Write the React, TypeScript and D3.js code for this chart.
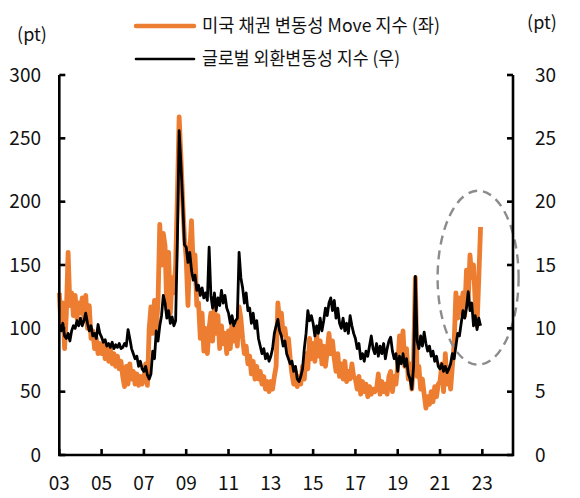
import * as d3 from "d3";

// monthly readings, Jan 2003 .. Dec 2022
const startYear = 2003;

// 미국 채권 변동성 Move 지수 (left axis)
const moveIndex = [
  128, 100, 120, 84, 112, 160, 118, 128, 110, 126, 108, 120, // 2003
  112, 124, 108, 126, 100, 118, 92, 98, 84, 92, 80, 88, // 2004
  80, 88, 76, 86, 74, 84, 72, 80, 70, 78, 68, 74, // 2005
  62, 54, 70, 56, 72, 60, 66, 56, 64, 55, 62, 56, // 2006
  60, 72, 55, 100, 117, 96, 122, 100, 120, 182, 150, 175, // 2007
  165, 115, 160, 112, 140, 128, 150, 205, 267, 235, 200, 172, // 2008
  155, 118, 160, 185, 148, 158, 118, 120, 92, 112, 82, 100, // 2009
  80, 100, 112, 90, 118, 96, 110, 84, 102, 88, 96, 80, // 2010
  98, 84, 105, 90, 100, 86, 117, 108, 92, 80, 86, 72, // 2011
  78, 64, 74, 60, 70, 60, 66, 56, 62, 52, 58, 50, // 2012
  58, 52, 62, 70, 120, 105, 112, 95, 100, 88, 92, 76, // 2013
  64, 56, 66, 54, 62, 56, 70, 60, 80, 68, 92, 76, // 2014
  88, 74, 96, 78, 90, 72, 86, 70, 82, 96, 80, 90, // 2015
  76, 66, 80, 62, 72, 60, 74, 58, 66, 60, 72, 62, // 2016
  60, 52, 62, 48, 58, 50, 56, 46, 54, 48, 52, 50, // 2017
  52, 64, 48, 58, 50, 56, 48, 62, 66, 50, 62, 56, // 2018
  70, 94, 82, 98, 70, 84, 60, 72, 52, 75, 140, 62, // 2019
  70, 52, 60, 48, 37, 46, 40, 50, 42, 54, 46, 56, // 2020
  58, 72, 50, 80, 56, 66, 52, 70, 88, 128, 108, 124, // 2021
  112, 128, 110, 146, 122, 158, 140, 150, 120, 102, 140, 180, // 2022
];

// 글로벌 외환변동성 지수 (right axis)
const fxVol = [
  10.3, 9.8, 10.4, 9.4, 9.2, 9.6, 9.0, 9.8, 10.2, 10.0, 10.6, 10.2, // 2003
  10.8, 10.2, 10.6, 11.2, 10.4, 9.8, 10.2, 9.4, 9.6, 9.2, 10.3, 9.6, // 2004
  9.3, 8.9, 9.1, 8.6, 8.8, 8.5, 8.9, 8.4, 8.7, 8.5, 8.8, 8.4, // 2005
  8.5, 8.8, 8.6, 9.9, 9.2, 8.4, 8.0, 7.6, 7.8, 7.0, 7.4, 6.8, // 2006
  6.6, 7.0, 6.3, 6.0, 6.4, 8.2, 7.6, 9.8, 9.0, 10.2, 11.0, 12.6, // 2007
  12.0, 10.8, 11.4, 10.4, 10.9, 10.2, 10.6, 17.0, 25.6, 23.0, 20.0, 16.6, // 2008
  16.4, 15.2, 16.0, 14.6, 13.8, 14.2, 13.0, 13.4, 12.6, 13.2, 12.4, 12.8, // 2009
  12.2, 16.4, 12.6, 11.6, 12.8, 11.4, 12.4, 11.8, 13.0, 12.0, 12.6, 11.6, // 2010
  11.2, 10.4, 11.0, 10.2, 10.6, 10.8, 16.0, 14.0, 13.2, 12.0, 12.8, 11.4, // 2011
  11.6, 10.4, 11.2, 10.0, 10.6, 9.2, 8.6, 8.0, 8.4, 7.6, 8.0, 7.4, // 2012
  7.8, 8.4, 9.6, 10.2, 10.7, 9.8, 9.4, 8.6, 9.0, 8.0, 7.6, 7.2, // 2013
  7.4, 6.6, 7.0, 6.0, 5.8, 6.2, 6.8, 8.4, 9.6, 11.4, 10.6, 11.0, // 2014
  10.4, 9.4, 10.2, 9.6, 10.8, 9.8, 10.6, 11.6, 11.0, 12.0, 12.4, 11.4, // 2015
  12.2, 10.8, 11.6, 10.4, 10.0, 10.8, 9.8, 10.4, 9.6, 11.0, 10.2, 9.6, // 2016
  9.2, 8.4, 8.8, 7.6, 8.0, 7.4, 8.2, 7.8, 8.6, 9.4, 8.4, 8.0, // 2017
  8.8, 7.8, 8.6, 8.0, 8.8, 7.6, 8.4, 9.0, 9.3, 8.2, 7.6, 8.0, // 2018
  6.6, 7.8, 7.2, 8.0, 7.0, 7.6, 6.4, 6.0, 5.2, 7.0, 14.1, 9.0, // 2019
  8.4, 9.4, 8.6, 9.7, 8.8, 8.2, 8.6, 7.8, 8.2, 7.4, 7.8, 7.0, // 2020
  6.8, 7.2, 6.6, 7.0, 6.5, 6.8, 7.2, 8.0, 7.6, 8.6, 9.6, 9.4, // 2021
  10.4, 11.4, 10.8, 11.6, 12.9, 11.4, 12.0, 10.2, 11.0, 9.9, 10.8, 10.2, // 2022
];

const leftTicks = [0, 50, 100, 150, 200, 250, 300];
const rightTicks = [0, 5, 10, 15, 20, 25, 30];
const xTicks = [2003, 2005, 2007, 2009, 2011, 2013, 2015, 2017, 2019, 2021, 2023];

const legendItems = [
  { label: "미국 채권 변동성 Move 지수 (좌)", color: "#ED7D31", width: 4.5, len: 238 },
  { label: "글로벌 외환변동성 지수 (우)", color: "#000000", width: 2.6, len: 198 },
];

const font = "'Noto Sans CJK KR', 'Noto Sans', sans-serif";

const App = () => {
  const width = 580;
  const height = 498;
  const left = 59.3;
  const right = 513;
  const top = 75;
  const bottom = 455;

  const x = d3.scaleLinear().domain([2003, 2024.45]).range([left, right]);
  const yL = d3.scaleLinear().domain([0, 300]).range([bottom, top]);
  const yR = d3.scaleLinear().domain([0, 30]).range([bottom, top]);

  const date = (i: number) => startYear + i / 12;

  const moveLine = d3
    .line<number>()
    .x((_, i) => x(date(i)))
    .y((d) => yL(d));
  const fxLine = d3
    .line<number>()
    .x((_, i) => x(date(i)))
    .y((d) => yR(d));

  const tickLen = 6;

  return (
    <svg
      width={width}
      height={height}
      style={{ position: "absolute", left: 0, top: 0, fontFamily: font }}
    >
      <rect width={width} height={height} fill="#fff" />

      {/* legend */}
      {legendItems.map((d, i) => (
        <g key={d.label} transform={`translate(0,${i === 0 ? 26 : 59})`}>
          <line
            x1={136}
            x2={194}
            stroke={d.color}
            strokeWidth={d.width}
            strokeLinecap="round"
          />
          <text
            x={202}
            y={0}
            dy="0.36em"
            fontSize={18}
            textLength={d.len}
            lengthAdjust="spacingAndGlyphs"
            fill="#111"
          >
            {d.label}
          </text>
        </g>
      ))}

      <text x={32} y={35} dy="0.36em" fontSize={18} textAnchor="middle" fill="#111">
        (pt)
      </text>
      <text x={542} y={23} dy="0.36em" fontSize={18} textAnchor="middle" fill="#111">
        (pt)
      </text>

      {/* series */}
      <path
        d={moveLine(moveIndex) ?? ""}
        fill="none"
        stroke="#ED7D31"
        strokeWidth={4.8}
        strokeLinejoin="round"
      />
      <path
        d={fxLine(fxVol) ?? ""}
        fill="none"
        stroke="#000"
        strokeWidth={2.8}
        strokeLinejoin="round"
      />

      {/* highlight */}
      <ellipse
        cx={x(2022.8)}
        cy={yL(140)}
        rx={40.5}
        ry={87}
        fill="none"
        stroke="#8c8c8c"
        strokeWidth={2.4}
        strokeDasharray="9 6"
      />

      {/* axes */}
      <g stroke="#000" strokeWidth={2.6} fill="none">
        <path d={`M${left},${top}V${bottom}H${right}V${top}`} />
        {leftTicks.map((t) => (
          <line key={`l${t}`} x1={left} x2={left + tickLen} y1={yL(t)} y2={yL(t)} />
        ))}
        {rightTicks.map((t) => (
          <line key={`r${t}`} x1={right} x2={right - tickLen} y1={yR(t)} y2={yR(t)} />
        ))}
        {xTicks.map((t) => (
          <line key={`x${t}`} x1={x(t)} x2={x(t)} y1={bottom} y2={bottom - tickLen} />
        ))}
      </g>

      <g fontSize={19} fill="#111">
        {leftTicks.map((t) => (
          <text key={`lt${t}`} x={41} y={yL(t)} dy="0.35em" textAnchor="end">
            {t}
          </text>
        ))}
        {rightTicks.map((t) => (
          <text key={`rt${t}`} x={535} y={yR(t)} dy="0.35em" textAnchor="start">
            {t}
          </text>
        ))}
        {xTicks.map((t) => (
          <text key={`xt${t}`} x={x(t)} y={483} dy="0.35em" textAnchor="middle">
            {String(t % 100).padStart(2, "0")}
          </text>
        ))}
      </g>
    </svg>
  );
};

export default App;
